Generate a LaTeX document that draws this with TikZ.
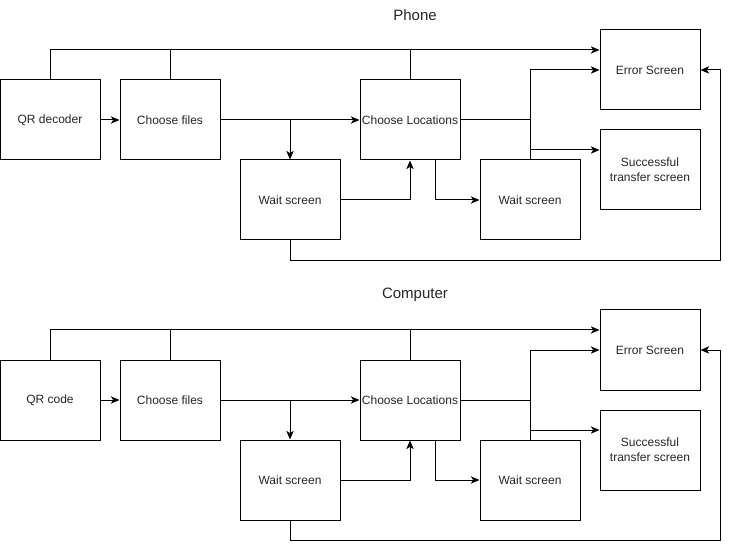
\documentclass[tikz,border=0pt]{standalone}
\usepackage{fontspec}
\setmainfont{Liberation Sans}
\usetikzlibrary{arrows.meta,calc}
\begin{document}
\begin{tikzpicture}[x=0.75pt,y=-0.75pt,
  box/.style={draw,line width=0.75pt,minimum width=75pt,minimum height=60pt,inner sep=0pt,align=center,text=black!85,font=\fontsize{9}{11.25}\selectfont},
  conn/.style={line width=0.75pt,-{Stealth[length=6.5pt,width=5.5pt,inset=1.8pt]}},
  plain/.style={line width=0.75pt},
  ttl/.style={text=black!85,font=\fontsize{11.25}{13}\selectfont}]
\useasboundingbox (0,0) rectangle (729,549);
\foreach \n/\dy/\t/\q in {p/0/Phone/QR decoder, c/280/Computer/QR code}{
  \node[ttl] (\n-title) at (415,{15+\dy}) {\t};
  \node[box] (\n-qr) at (50,{120+\dy}) {\q};
  \node[box] (\n-cf) at (170,{120+\dy}) {Choose files};
  \node[box] (\n-cl) at (410,{120+\dy}) {Choose Locations};
  \node[box] (\n-wa) at (290,{200+\dy}) {Wait screen};
  \node[box] (\n-wb) at (530,{200+\dy}) {Wait screen};
  \node[box] (\n-er) at (650,{70+\dy}) {Error Screen};
  \node[box] (\n-ok) at (650,{170+\dy}) {Successful\\transfer screen};
  \draw[conn] (\n-qr) -- (\n-cf);
  \draw[conn] (\n-qr.north) |- ([yshift=15pt]\n-er.west);
  \draw[plain] (\n-cf.north) -- ++(0,-30);
  \draw[plain] (\n-cl.north) -- ++(0,-30);
  \draw[conn] (\n-cf) -- (\n-cl);
  \draw[conn] (\n-wa.north |- \n-cf.east) -- (\n-wa.north);
  \draw[conn] (\n-wa.east) -| (\n-cl.south);
  \draw[conn] ([xshift=18.75pt]\n-cl.south) |- (\n-wb.west);
  \draw[conn] (\n-cl.east) -| (\n-wb.north |- \n-er.west) -- (\n-er.west);
  \draw[plain] (\n-wb.north) -- (\n-wb.north |- \n-cl.east);
  \draw[conn] (\n-wb.north) |- ([yshift=15pt]\n-ok.west);
  \draw[conn] (\n-wa.south) -- ++(0,20) -| ([xshift=15pt]\n-er.east) -- (\n-er.east);
}
\end{tikzpicture}
\end{document}
